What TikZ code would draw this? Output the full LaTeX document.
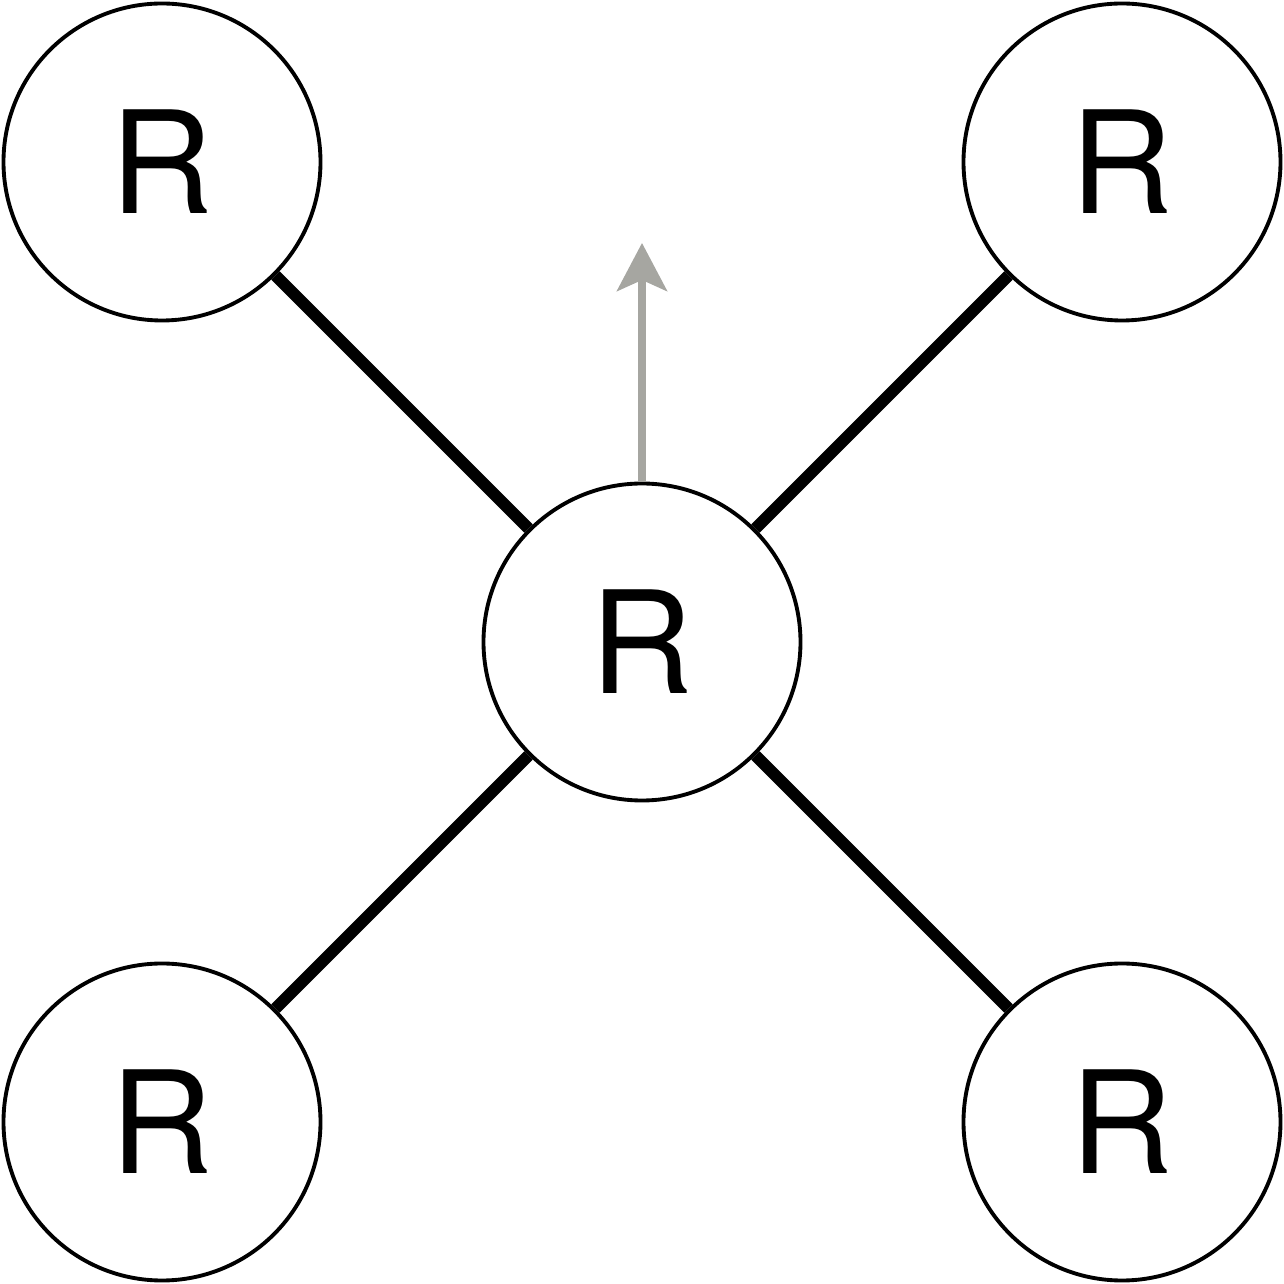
\documentclass[tikz,border=0pt]{standalone}
\usepackage{fontspec}
\setmainfont{TeX Gyre Heros}
\usetikzlibrary{arrows.meta,positioning}
\definecolor{Ink}{HTML}{000000}
\definecolor{ArrowGray}{HTML}{A6A6A1}
\tikzset{
  router/.style={circle,draw=Ink,line width=1.1pt,fill=white,minimum size=3.17cm,inner sep=0pt,font=\fontsize{40.5}{41}\selectfont},
  link/.style={Ink,line width=3.4pt},
}
\begin{document}
\begin{tikzpicture}[>=Stealth]
\useasboundingbox (0,0) rectangle (12.84,12.84);
\node[router] (hub) at (6.42,6.42){R};
\node[router] (nw) at (1.62,11.22){R};
\node[router] (ne) at (11.22,11.22){R};
\node[router] (sw) at (1.62,1.62){R};
\node[router] (se) at (11.22,1.62){R};
\foreach \leaf in {nw,ne,sw,se}
  \draw[link] (hub) -- (\leaf);
\coordinate (up) at (6.42,10.41);
\draw[ArrowGray,line width=2.1pt,-{Stealth[length=0.48cm,width=0.50cm,inset=0.11cm]}] (hub.north) -- (up);
\end{tikzpicture}
\end{document}
